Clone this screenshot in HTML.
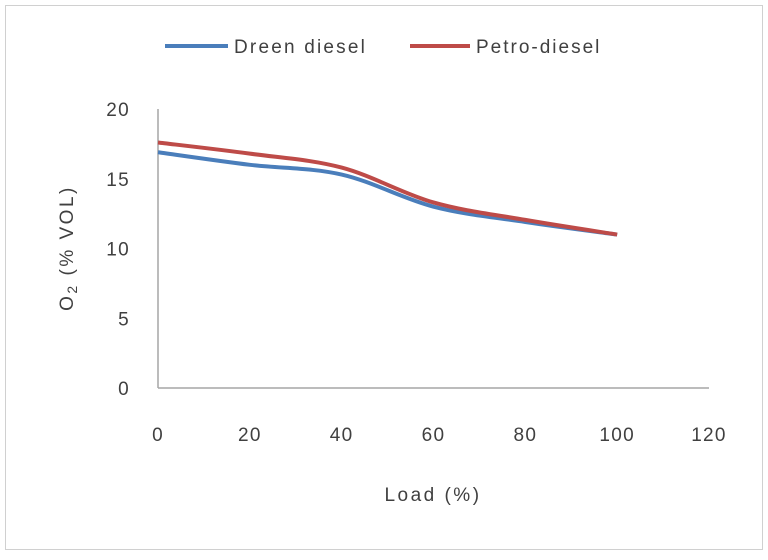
<!DOCTYPE html>
<html><head><meta charset="utf-8"><style>
body{margin:0;background:#fff;font-family:"Liberation Sans",sans-serif;}
svg text{fill:#404040;font-family:"Liberation Sans",sans-serif;letter-spacing:1.3px;}
</style></head><body>
<svg width="768" height="555">
<rect x="5.5" y="5.5" width="757" height="544" fill="#fff" stroke="#d0d0d0"/>
<g id="axes"></g>
<g id="series"></g>
<g>
<line x1="165" y1="46" x2="228" y2="46" stroke="#4a7ebb" stroke-width="4"/>
<text x="234" y="53" font-size="19" style="letter-spacing:2.2px">Dreen diesel</text>
<line x1="410" y1="46" x2="470" y2="46" stroke="#be4b48" stroke-width="4"/>
<text x="476" y="53" font-size="19" style="letter-spacing:2px">Petro-diesel</text>
</g>
<text x="433" y="501" font-size="19" text-anchor="middle" style="letter-spacing:2.5px">Load (%)</text>
<text transform="translate(73,248) rotate(-90)" font-size="19" text-anchor="middle" style="letter-spacing:2.5px">O<tspan font-size="14" dy="4">2</tspan><tspan dy="-4"> (% VOL)</tspan></text>
</svg>
<script>
const xCats=[0,20,40,60,80,100];
const dreen=[16.9,16.0,15.3,13.0,11.9,11.0];
const petro=[17.6,16.8,15.8,13.3,12.05,11.0];
const xTicks=[0,20,40,60,80,100,120];
const yTicks=[0,5,10,15,20];
const X=v=>158+v*(709-158)/120;
const Y=v=>388-v*(388-109)/20;
const NS="http://www.w3.org/2000/svg";
const axes=document.getElementById('axes');
function mk(t,a,p){const e=document.createElementNS(NS,t);for(const k in a)e.setAttribute(k,a[k]);p.appendChild(e);return e;}
const ya=mk('line',{x1:158,y1:109,x2:158,y2:388,stroke:'#a6a6a6','stroke-width':1.5},axes);


const xa=mk('line',{x1:158,y1:388,x2:709,y2:388,stroke:'#a6a6a6','stroke-width':1.5},axes);


xTicks.forEach(t=>{const e=mk('text',{x:X(t),y:441,'font-size':19,'text-anchor':'middle'},axes);e.textContent=t;

});
yTicks.forEach(t=>{const e=mk('text',{x:130,y:Y(t)+7,'font-size':19,'text-anchor':'end'},axes);e.textContent=t;

});
function path(vals){const p=xCats.map((c,i)=>[X(c),Y(vals[i])]);let d='M'+p[0][0]+','+p[0][1];
for(let i=0;i<p.length-1;i++){const p0=p[i-1]||p[i],p1=p[i],p2=p[i+1],p3=p[i+2]||p2;
const c1=[p1[0]+(p2[0]-p0[0])/6,p1[1]+(p2[1]-p0[1])/6],c2=[p2[0]-(p3[0]-p1[0])/6,p2[1]-(p3[1]-p1[1])/6];
d+=` C${c1[0]},${c1[1]} ${c2[0]},${c2[1]} ${p2[0]},${p2[1]}`;}return d;}
const sg=document.getElementById('series');
const l1=mk('path',{d:path(dreen),fill:'none',stroke:'#4a7ebb','stroke-width':4},sg);


const l2=mk('path',{d:path(petro),fill:'none',stroke:'#be4b48','stroke-width':4},sg);


</script>
</body></html>
